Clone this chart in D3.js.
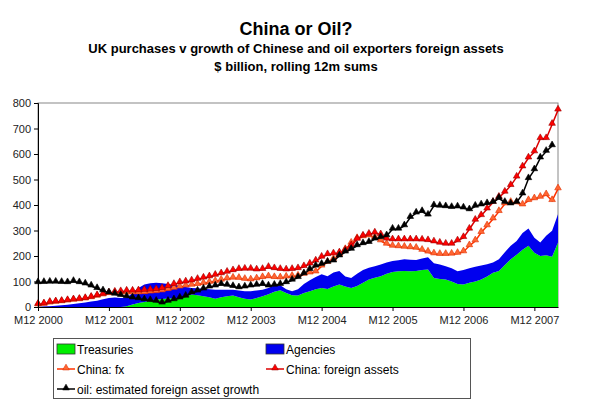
<!DOCTYPE html>
<html>
<head>
<meta charset="utf-8">
<script src="https://cdn.jsdelivr.net/npm/d3@7"></script>
<style>
  body { margin: 0; background: #fff; }
  svg { font-family: "Liberation Sans", Arial, sans-serif; }
</style>
</head>
<body>
<div id="chart"></div>
<script>
// monthly data, first point M12 2000
var tickLabels = ['M12 2000', 'M12 2001', 'M12 2002', 'M12 2003', 'M12 2004', 'M12 2005', 'M12 2006', 'M12 2007'];

var treasuries = [0, 0, 0, 0, 0, 0, 0, 0, 0, 0, 0, 0, 0, 0, 0, 3, 10, 16, 20, 25,
  29, 31, 33, 34, 35, 42, 49, 46, 42, 38, 32, 38, 42, 45, 38, 32, 29, 35, 42, 50,
  60, 66, 55, 46, 45, 55, 62, 70, 75, 71, 80, 88, 80, 75, 82, 95, 108, 115, 121, 130,
  137, 140, 141, 140, 141, 145, 147, 114, 110, 108, 100, 90, 88, 95, 100, 108, 120, 134, 141, 165,
  187, 205, 225, 240, 213, 200, 203, 197, 253];

var agencies = [0, 2, 3, 5, 7, 9, 12, 15, 18, 22, 25, 30, 35, 37, 35, 33, 45, 59, 68, 68,
  66, 62, 57, 52, 47, 36, 26, 28, 30, 32, 36, 30, 26, 23, 27, 30, 33, 30, 26, 25,
  25, 19, 15, 16, 25, 35, 43, 48, 53, 50, 55, 53, 40, 39, 48, 50, 46, 45, 46, 45,
  43, 43, 46, 45, 43, 45, 48, 58, 57, 52, 52, 50, 57, 57, 58, 55, 48, 41, 46, 50,
  53, 54, 65, 68, 59, 53, 76, 102, 111];

var chinaFx = [8, 10, 15, 18, 20, 23, 26, 28, 31, 36, 42, 47, 52, 54, 55, 55, 55, 55, 56, 58,
  60, 63, 68, 73, 78, 82, 85, 88, 92, 96, 100, 105, 110, 113, 112, 108, 106, 110, 115, 118,
  115, 114, 117, 120, 121, 128, 133, 137, 160, 175, 187, 205, 225, 250, 268, 275, 279, 272, 259, 246,
  238, 236, 234, 232, 230, 222, 215, 208, 206, 206, 207, 210, 216, 240, 259, 292, 318, 345, 374, 404,
  410, 408, 400, 417, 424, 430, 440, 417, 463];

var chinaAssets = [10, 12, 18, 20, 22, 25, 28, 30, 33, 38, 44, 50, 55, 58, 60, 62, 62, 63, 65, 66,
  68, 72, 80, 88, 95, 98, 102, 108, 113, 118, 124, 130, 136, 142, 147, 148, 148, 145, 147, 155,
  150, 147, 145, 147, 150, 158, 168, 180, 195, 205, 208, 212, 222, 240, 265, 278, 285, 290, 283, 266,
  263, 263, 263, 263, 263, 262, 260, 255, 250, 246, 246, 259, 272, 305, 340, 358, 384, 410, 430, 450,
  476, 509, 549, 584, 608, 660, 660, 716, 772];

var oil = [95, 96, 97, 97, 96, 95, 100, 95, 90, 82, 72, 63, 55, 50, 45, 40, 35, 32, 28, 25,
  22, 15, 22, 28, 35, 42, 55, 62, 70, 78, 82, 88, 85, 80, 75, 78, 82, 85, 88, 82,
  85, 88, 95, 105, 115, 130, 147, 160, 167, 175, 180, 200, 215, 226, 240, 248, 253, 266, 272, 279,
  305, 305, 318, 351, 368, 374, 360, 397, 395, 393, 390, 392, 388, 381, 395, 400, 405, 410, 426, 410,
  404, 410, 443, 503, 538, 584, 610, 632];

var W = 593, H = 405;
var plotL = 38, plotR = 558, plotT = 103, plotB = 307;

var svg = d3.select('#chart').append('svg').attr('width', W).attr('height', H);

// titles
svg.append('text').attr('x', 296).attr('y', 35).attr('text-anchor', 'middle')
   .attr('font-size', 18).attr('font-weight', 'bold').text('China or Oil?');
svg.append('text').attr('x', 296).attr('y', 53).attr('text-anchor', 'middle')
   .attr('font-size', 13).attr('font-weight', 'bold')
   .text('UK purchases v growth of Chinese and oil exporters foreign assets');
svg.append('text').attr('x', 296).attr('y', 71).attr('text-anchor', 'middle')
   .attr('font-size', 13).attr('font-weight', 'bold').text('$ billion, rolling 12m sums');

var x = d3.scaleLinear().domain([0, treasuries.length - 1]).range([plotL, plotR]);
var y = d3.scaleLinear().domain([0, 800]).range([plotB, plotT]);

// plot frame (gray top/right)
svg.append('rect').attr('x', plotL).attr('y', plotT).attr('width', plotR - plotL).attr('height', plotB - plotT)
   .attr('fill', 'none').attr('stroke', '#888').attr('stroke-width', 1);

// stacked areas
var rows = treasuries.map((t, i) => ({ i: i, treasuries: t, agencies: agencies[i] }));
var stack = d3.stack().keys(['treasuries', 'agencies'])(rows);
var areaColors = { treasuries: '#00ee00', agencies: '#0000ee' };
var area = d3.area().x(d => x(d.data.i)).y0(d => y(d[0])).y1(d => y(d[1]));

svg.selectAll('path.area').data(stack).enter()
   .append('path').attr('class', 'area')
   .attr('d', area).attr('fill', d => areaColors[d.key]);

// line series
var lineSeries = [
  { name: 'China: fx', values: chinaFx, line: '#ff3300', fill: '#ff6633', edge: '#e03000' },
  { name: 'China: foreign assets', values: chinaAssets, line: '#dd0000', fill: '#ff0000', edge: '#990000' },
  { name: 'oil: estimated foreign asset growth', values: oil, line: '#000000', fill: '#000000', edge: '#000000' }
];

var line = d3.line().x((d, i) => x(i)).y(d => y(d));
var tri = d3.symbol().type(d3.symbolTriangle).size(19);

lineSeries.forEach(s => {
  svg.append('path').attr('d', line(s.values)).attr('fill', 'none')
     .attr('stroke', s.line).attr('stroke-width', 1.5);
  svg.selectAll(null).data(s.values).enter()
     .append('path').attr('d', tri)
     .attr('transform', (d, i) => `translate(${x(i)},${y(d) - 1})`)
     .attr('fill', s.fill).attr('stroke', s.edge).attr('stroke-width', 0.6);
});

// y axis
var yAxis = d3.axisLeft(y).tickValues(d3.range(0, 801, 100)).tickSize(4).tickPadding(3);
var gy = svg.append('g').attr('transform', `translate(${plotL},0)`).call(yAxis);
gy.select('.domain').attr('stroke', '#000');
gy.selectAll('text').attr('font-size', 11).attr('font-family', '"Liberation Sans", Arial, sans-serif').attr('fill', '#222');

// x axis, tick every 12 months
var xAxis = d3.axisBottom(x).tickValues(tickLabels.map((t, k) => k * 12))
  .tickFormat((d, k) => tickLabels[k]).tickSize(4).tickSizeOuter(0).tickPadding(5);
var gx = svg.append('g').attr('transform', `translate(0,${plotB})`).call(xAxis);
gx.select('.domain').attr('stroke', '#000');
gx.selectAll('text').attr('font-size', 11).attr('font-family', '"Liberation Sans", Arial, sans-serif').attr('fill', '#222');

// legend
var legend = svg.append('g');
legend.append('rect').attr('x', 53.5).attr('y', 338.5).attr('width', 417).attr('height', 60)
  .attr('fill', '#fff').attr('stroke', '#555');

var legendItems = [
  { name: 'Treasuries', kind: 'box', color: '#00ee00', col: 0, row: 0 },
  { name: 'Agencies', kind: 'box', color: '#0000ee', col: 1, row: 0 },
  { name: lineSeries[0].name, kind: 'line', s: lineSeries[0], col: 0, row: 1 },
  { name: lineSeries[1].name, kind: 'line', s: lineSeries[1], col: 1, row: 1 },
  { name: lineSeries[2].name, kind: 'line', s: lineSeries[2], col: 0, row: 2 }
];

legendItems.forEach(it => {
  var lx = it.col == 0 ? 57 : 266;
  var ly = 349 + it.row * 20;
  if (it.kind == 'box') {
    legend.append('rect').attr('x', lx).attr('y', ly - 5).attr('width', 18).attr('height', 10)
      .attr('fill', it.color).attr('stroke', '#333').attr('stroke-width', 0.8);
  } else {
    legend.append('line').attr('x1', lx).attr('x2', lx + 18).attr('y1', ly).attr('y2', ly)
      .attr('stroke', it.s.line).attr('stroke-width', 1.5);
    legend.append('path').attr('d', tri).attr('transform', `translate(${lx + 9},${ly - 1})`)
      .attr('fill', it.s.fill).attr('stroke', it.s.edge).attr('stroke-width', 0.6);
  }
  legend.append('text').attr('x', lx + 20).attr('y', ly + 4.5).attr('font-size', 12).text(it.name);
});
</script>
</body>
</html>
